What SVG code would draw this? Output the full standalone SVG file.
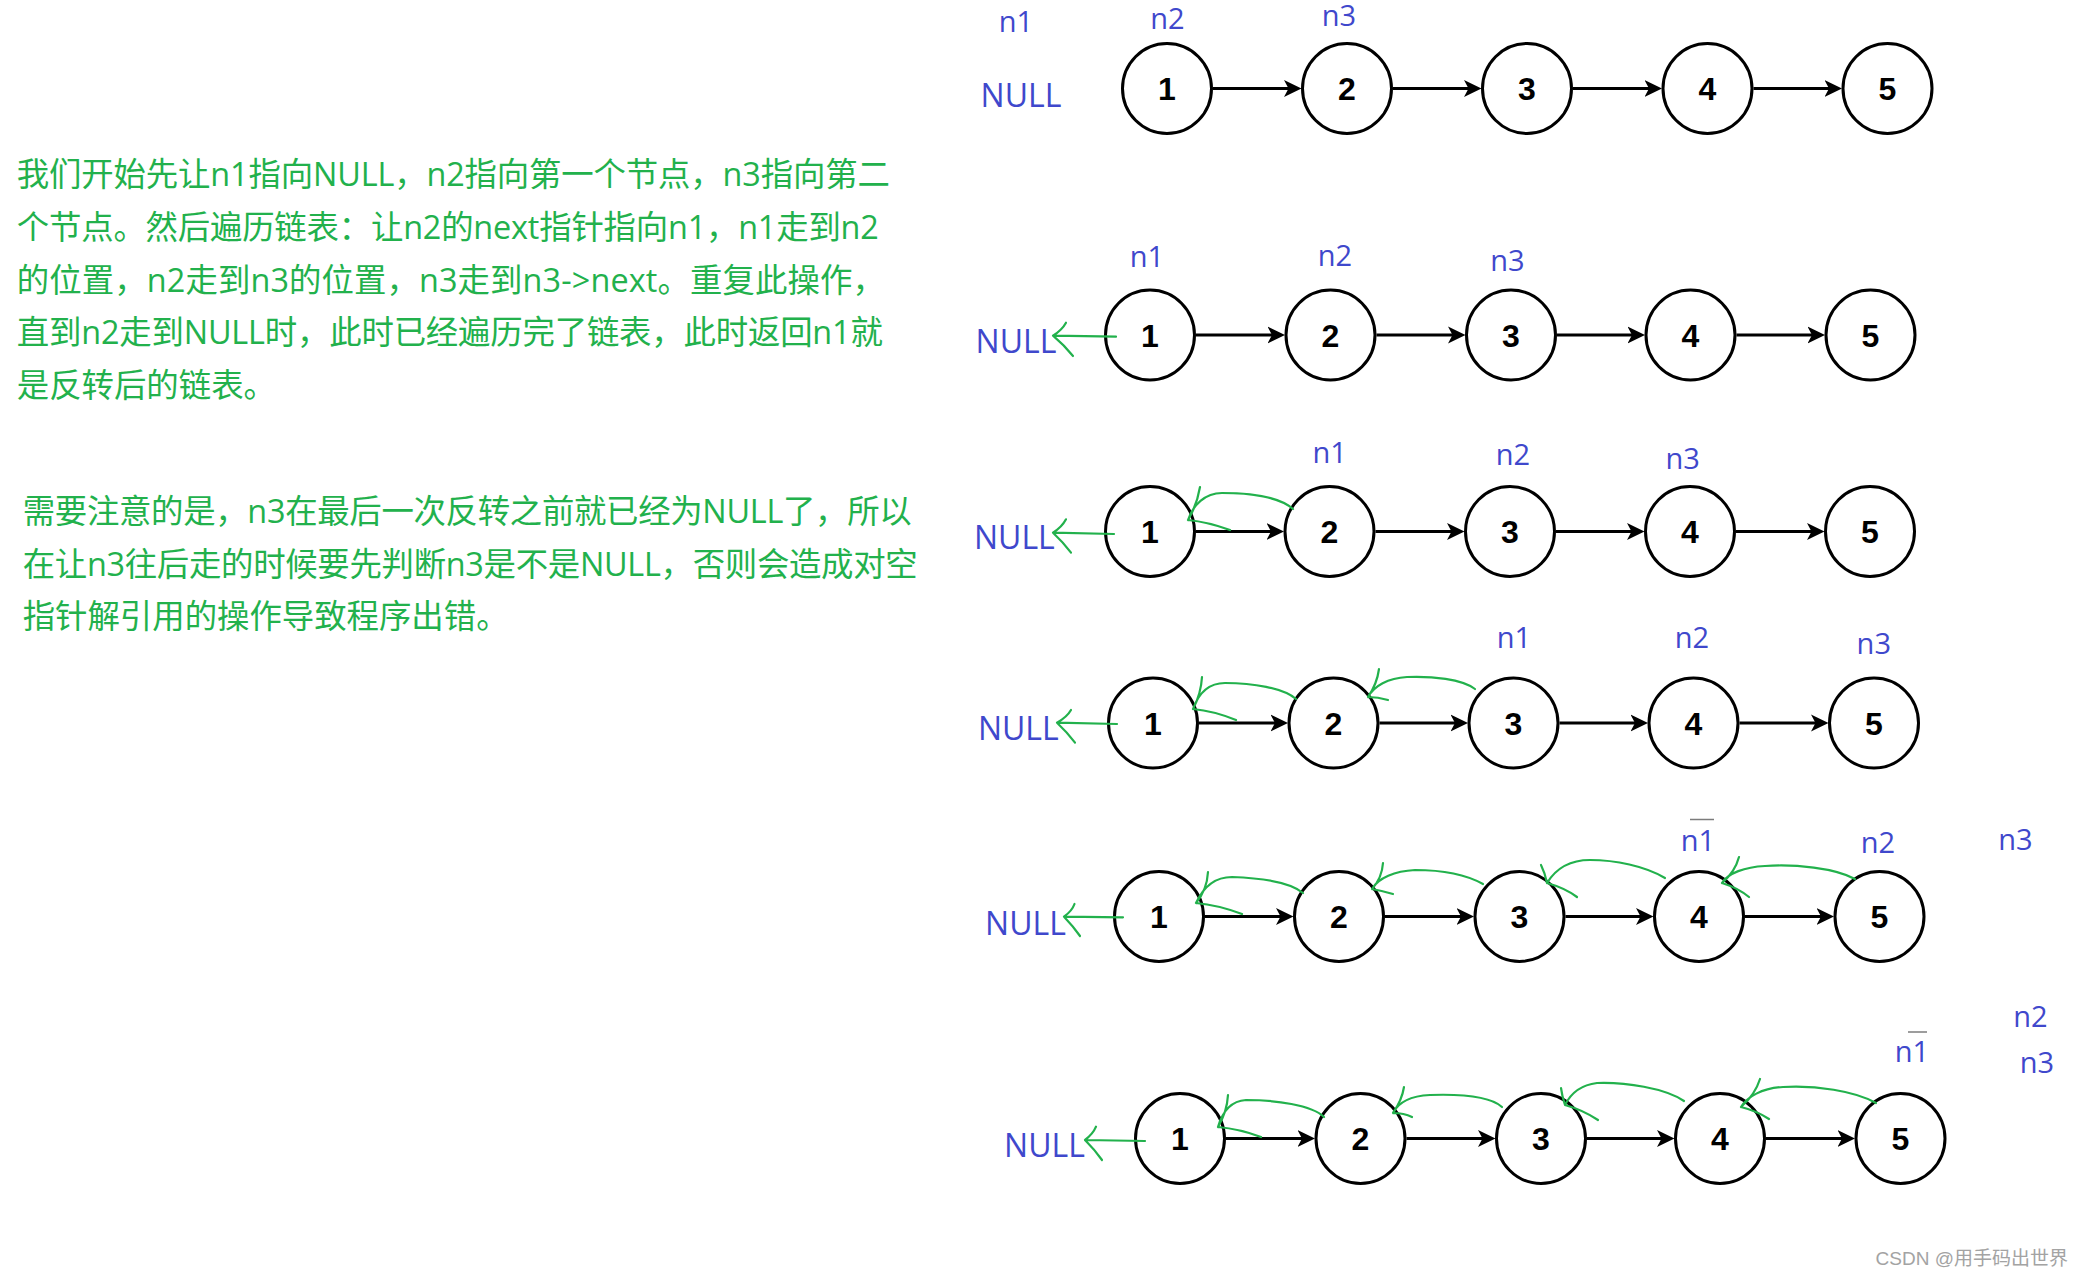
<svg xmlns="http://www.w3.org/2000/svg" width="2082" height="1276" viewBox="0 0 2082 1276">
<style>
.node ellipse{fill:#fff;stroke:#000;stroke-width:3}
.node text{font-family:"Liberation Sans",Arial,sans-serif;font-weight:bold;font-size:32px;text-anchor:middle;fill:#000}
.lbl{font-family:"Open Sans","Noto Sans",sans-serif;font-size:29px;fill:#3F48CC;text-anchor:middle}
.null{font-size:32px}
.para{font-family:"Open Sans","Noto Sans CJK SC",sans-serif;font-size:32.4px;fill:#22B14C}
.edge{stroke:#000;stroke-width:3.2;fill:none;marker-end:url(#ah)}
.ink{stroke:#22B14C;stroke-width:2.2;fill:none;stroke-linecap:round;stroke-linejoin:round}
.wm{font-family:"Liberation Sans","Noto Sans CJK SC",sans-serif;font-size:19px;fill:#a3a3a3;text-anchor:end}
</style>
<defs>
<marker id="ah" markerUnits="userSpaceOnUse" markerWidth="20" markerHeight="20" viewBox="0 0 20 20" refX="7" refY="10" orient="auto">
<path d="M0,1.5 L17.5,10 L0,18.5 L4.5,10 Z" fill="#000"/>
</marker>
</defs>
<rect width="2082" height="1276" fill="#fff"/>

<g id="text-paragraphs">
<text class="para" x="16.8" y="186" textLength="873" lengthAdjust="spacing">我们开始先让n1指向NULL，n2指向第一个节点，n3指向第二</text>
<text class="para" x="16.8" y="239" textLength="862" lengthAdjust="spacing">个节点。然后遍历链表：让n2的next指针指向n1，n1走到n2</text>
<text class="para" x="16.8" y="291.5" textLength="868" lengthAdjust="spacing">的位置，n2走到n3的位置，n3走到n3-&gt;next。重复此操作，</text>
<text class="para" x="16.8" y="344" textLength="866" lengthAdjust="spacing">直到n2走到NULL时，此时已经遍历完了链表，此时返回n1就</text>
<text class="para" x="16.8" y="396.5">是反转后的链表。</text>
<text class="para" x="22.7" y="523" textLength="889" lengthAdjust="spacing">需要注意的是，n3在最后一次反转之前就已经为NULL了，所以</text>
<text class="para" x="22.7" y="575.5" textLength="895" lengthAdjust="spacing">在让n3往后走的时候要先判断n3是不是NULL，否则会造成对空</text>
<text class="para" x="22.7" y="627.5">指针解引用的操作导致程序出错。</text>
</g>

<g id="pointer-labels">
<text class="lbl" x="1016" y="31.7">n1</text>
<text class="lbl" x="1167.5" y="29.3">n2</text>
<text class="lbl" x="1339" y="26">n3</text>
<text class="lbl null" x="1021" y="107.3">NULL</text>

<text class="lbl" x="1147" y="267.3">n1</text>
<text class="lbl" x="1335" y="266">n2</text>
<text class="lbl" x="1507.4" y="270.7">n3</text>
<text class="lbl null" x="1016" y="352.7">NULL</text>

<text class="lbl" x="1329.6" y="463.3">n1</text>
<text class="lbl" x="1513" y="465">n2</text>
<text class="lbl" x="1682.7" y="469.3">n3</text>
<text class="lbl null" x="1014.4" y="549.3">NULL</text>

<text class="lbl" x="1514" y="647.7">n1</text>
<text class="lbl" x="1692" y="647.7">n2</text>
<text class="lbl" x="1873.8" y="654">n3</text>
<text class="lbl null" x="1018.3" y="740">NULL</text>

<text class="lbl" x="1698" y="850.7">n1</text>
<text class="lbl" x="1878" y="852.7">n2</text>
<text class="lbl" x="2015.5" y="850">n3</text>
<text class="lbl null" x="1025.5" y="935">NULL</text>

<text class="lbl" x="1912" y="1061.7">n1</text>
<text class="lbl" x="2030.5" y="1026.7">n2</text>
<text class="lbl" x="2037" y="1073.3">n3</text>
<text class="lbl null" x="1044.5" y="1157.3">NULL</text>
<path d="M1690,819.5 L1714,819.5 M1908,1032 L1927,1032" stroke="#444" stroke-width="1.6" opacity="0.7" fill="none"/>
</g>

<g id="r1n1" class="node"><ellipse cx="1167" cy="88.5" rx="44.5" ry="45"/><text x="1167" y="100">1</text></g>
<g id="r1n2" class="node"><ellipse cx="1347" cy="88.5" rx="44.5" ry="45"/><text x="1347" y="100">2</text></g>
<g id="r1n3" class="node"><ellipse cx="1527" cy="88.5" rx="44.5" ry="45"/><text x="1527" y="100">3</text></g>
<g id="r1n4" class="node"><ellipse cx="1707.5" cy="88.5" rx="44.5" ry="45"/><text x="1707.5" y="100">4</text></g>
<g id="r1n5" class="node"><ellipse cx="1887.5" cy="88.5" rx="44.5" ry="45"/><text x="1887.5" y="100">5</text></g>

<g id="r2n1" class="node"><ellipse cx="1150" cy="335" rx="44.5" ry="45"/><text x="1150" y="346.5">1</text></g>
<g id="r2n2" class="node"><ellipse cx="1330.5" cy="335" rx="44.5" ry="45"/><text x="1330.5" y="346.5">2</text></g>
<g id="r2n3" class="node"><ellipse cx="1511" cy="335" rx="44.5" ry="45"/><text x="1511" y="346.5">3</text></g>
<g id="r2n4" class="node"><ellipse cx="1690.5" cy="335" rx="44.5" ry="45"/><text x="1690.5" y="346.5">4</text></g>
<g id="r2n5" class="node"><ellipse cx="1870.5" cy="335" rx="44.5" ry="45"/><text x="1870.5" y="346.5">5</text></g>

<g id="r3n1" class="node"><ellipse cx="1150" cy="531.5" rx="44.5" ry="45"/><text x="1150" y="543">1</text></g>
<g id="r3n2" class="node"><ellipse cx="1329.5" cy="531.5" rx="44.5" ry="45"/><text x="1329.5" y="543">2</text></g>
<g id="r3n3" class="node"><ellipse cx="1510" cy="531.5" rx="44.5" ry="45"/><text x="1510" y="543">3</text></g>
<g id="r3n4" class="node"><ellipse cx="1690" cy="531.5" rx="44.5" ry="45"/><text x="1690" y="543">4</text></g>
<g id="r3n5" class="node"><ellipse cx="1870" cy="531.5" rx="44.5" ry="45"/><text x="1870" y="543">5</text></g>

<g id="r4n1" class="node"><ellipse cx="1153" cy="723" rx="44.5" ry="45"/><text x="1153" y="734.5">1</text></g>
<g id="r4n2" class="node"><ellipse cx="1333.5" cy="723" rx="44.5" ry="45"/><text x="1333.5" y="734.5">2</text></g>
<g id="r4n3" class="node"><ellipse cx="1513.5" cy="723" rx="44.5" ry="45"/><text x="1513.5" y="734.5">3</text></g>
<g id="r4n4" class="node"><ellipse cx="1693.5" cy="723" rx="44.5" ry="45"/><text x="1693.5" y="734.5">4</text></g>
<g id="r4n5" class="node"><ellipse cx="1874" cy="723" rx="44.5" ry="45"/><text x="1874" y="734.5">5</text></g>

<g id="r5n1" class="node"><ellipse cx="1159" cy="916.5" rx="44.5" ry="45"/><text x="1159" y="928">1</text></g>
<g id="r5n2" class="node"><ellipse cx="1339" cy="916.5" rx="44.5" ry="45"/><text x="1339" y="928">2</text></g>
<g id="r5n3" class="node"><ellipse cx="1519.5" cy="916.5" rx="44.5" ry="45"/><text x="1519.5" y="928">3</text></g>
<g id="r5n4" class="node"><ellipse cx="1699" cy="916.5" rx="44.5" ry="45"/><text x="1699" y="928">4</text></g>
<g id="r5n5" class="node"><ellipse cx="1879.5" cy="916.5" rx="44.5" ry="45"/><text x="1879.5" y="928">5</text></g>

<g id="r6n1" class="node"><ellipse cx="1180" cy="1138.5" rx="44.5" ry="45"/><text x="1180" y="1150">1</text></g>
<g id="r6n2" class="node"><ellipse cx="1360.5" cy="1138.5" rx="44.5" ry="45"/><text x="1360.5" y="1150">2</text></g>
<g id="r6n3" class="node"><ellipse cx="1541" cy="1138.5" rx="44.5" ry="45"/><text x="1541" y="1150">3</text></g>
<g id="r6n4" class="node"><ellipse cx="1720" cy="1138.5" rx="44.5" ry="45"/><text x="1720" y="1150">4</text></g>
<g id="r6n5" class="node"><ellipse cx="1900.5" cy="1138.5" rx="44.5" ry="45"/><text x="1900.5" y="1150">5</text></g>

<g id="connectors">
<path class="edge" d="M1213,88.5 L1291,88.5"/>
<path class="edge" d="M1393,88.5 L1471,88.5"/>
<path class="edge" d="M1573,88.5 L1651.5,88.5"/>
<path class="edge" d="M1753.5,88.5 L1831.5,88.5"/>

<path class="edge" d="M1196,335 L1274.5,335"/>
<path class="edge" d="M1376.5,335 L1455,335"/>
<path class="edge" d="M1557,335 L1634.5,335"/>
<path class="edge" d="M1736.5,335 L1814.5,335"/>

<path class="edge" d="M1196,531.5 L1273.5,531.5"/>
<path class="edge" d="M1375.5,531.5 L1454,531.5"/>
<path class="edge" d="M1556,531.5 L1634,531.5"/>
<path class="edge" d="M1736,531.5 L1814,531.5"/>

<path class="edge" d="M1199,723 L1277.5,723"/>
<path class="edge" d="M1379.5,723 L1457.5,723"/>
<path class="edge" d="M1559.5,723 L1637.5,723"/>
<path class="edge" d="M1739.5,723 L1818,723"/>

<path class="edge" d="M1205,916.5 L1283,916.5"/>
<path class="edge" d="M1385,916.5 L1463.5,916.5"/>
<path class="edge" d="M1565.5,916.5 L1643,916.5"/>
<path class="edge" d="M1745,916.5 L1823.5,916.5"/>

<path class="edge" d="M1226,1138.5 L1304.5,1138.5"/>
<path class="edge" d="M1406.5,1138.5 L1485,1138.5"/>
<path class="edge" d="M1587,1138.5 L1664,1138.5"/>
<path class="edge" d="M1766,1138.5 L1844.5,1138.5"/>

<path class="ink" d="M1116,336.7 L1053,335.7 M1053,335.7 Q1062,330 1066,322.7 M1053,335.7 Q1064,345 1073,356"/>
<path class="ink" d="M1114,534 L1053,532.7 M1053,532.7 Q1062,527 1066,519.3 M1053,532.7 Q1063,542 1071,552.7"/>
<path class="ink" d="M1117,724 L1057,722.7 M1057,722.7 Q1067,717 1071,710 M1057,722.7 Q1067,732 1075,742.7"/>
<path class="ink" d="M1123,917.3 L1064,916.7 M1064,916.7 Q1072,911 1074.5,904 M1064,916.7 Q1073,926 1080,936"/>
<path class="ink" d="M1145,1141 L1085,1140 M1085,1140 Q1093,1134 1096,1126.7 M1085,1140 Q1095,1150 1102,1160"/>

<path class="ink" d="M1293,509 C1280,497 1250,493 1222,493 C1205,493 1193,505 1188,520 M1188,520 Q1197,505 1200,487 M1188,520 Q1208,522 1230,530"/>

<path class="ink" d="M1296,699 C1283,688 1253,683 1225,683 C1208,683 1198,695 1193,709 M1193,709 Q1201,694 1202,677 M1193,709 Q1214,711 1236,720"/>
<path class="ink" d="M1475,689 C1462,679 1432,676 1407,677 C1388,678 1374,686 1368,697 M1368,697 Q1377,684 1379,669 M1368,697 Q1378,697 1388,700"/>

<path class="ink" d="M1303,893 C1290,882 1260,878 1232,877 C1213,877 1202,890 1196,903 M1196,903 Q1207,890 1208,872 M1196,903 Q1218,905 1242,914"/>
<path class="ink" d="M1483,884 C1465,874 1440,870 1415,870 C1395,871 1378,878 1372,889 M1372,889 Q1382,878 1383,863 M1372,889 Q1383,891 1393,894"/>
<path class="ink" d="M1665,878 C1645,866 1615,860 1590,860 C1568,860 1555,870 1547,883 M1547,883 Q1545,873 1541,865 M1547,883 Q1565,888 1577,897"/>
<path class="ink" d="M1855,879 C1835,868 1795,864 1765,866 C1745,867 1728,873 1722,883 M1722,883 Q1735,872 1739,857 M1722,883 Q1738,888 1749,897"/>

<path class="ink" d="M1324,1117 C1312,1105 1275,1100 1246,1100 C1230,1101 1222,1113 1218,1127 M1218,1127 Q1227,1112 1228,1095 M1218,1127 Q1240,1129 1261,1137"/>
<path class="ink" d="M1502,1107 C1490,1096 1460,1094 1430,1095 C1410,1096 1398,1103 1393,1113 M1393,1113 Q1402,1100 1404,1087 M1393,1113 Q1404,1113 1412,1117"/>
<path class="ink" d="M1684,1101 C1665,1088 1625,1082 1597,1083 C1580,1085 1570,1095 1565,1105 M1565,1105 Q1562,1096 1561,1088 M1565,1105 Q1583,1110 1598,1120"/>
<path class="ink" d="M1876,1103 C1855,1091 1815,1085 1783,1087 C1762,1088 1747,1097 1741,1107 M1741,1107 Q1755,1095 1760,1079 M1741,1107 Q1757,1111 1769,1119"/>
</g>

<text class="wm" x="2068" y="1265">CSDN @用手码出世界</text>
</svg>
